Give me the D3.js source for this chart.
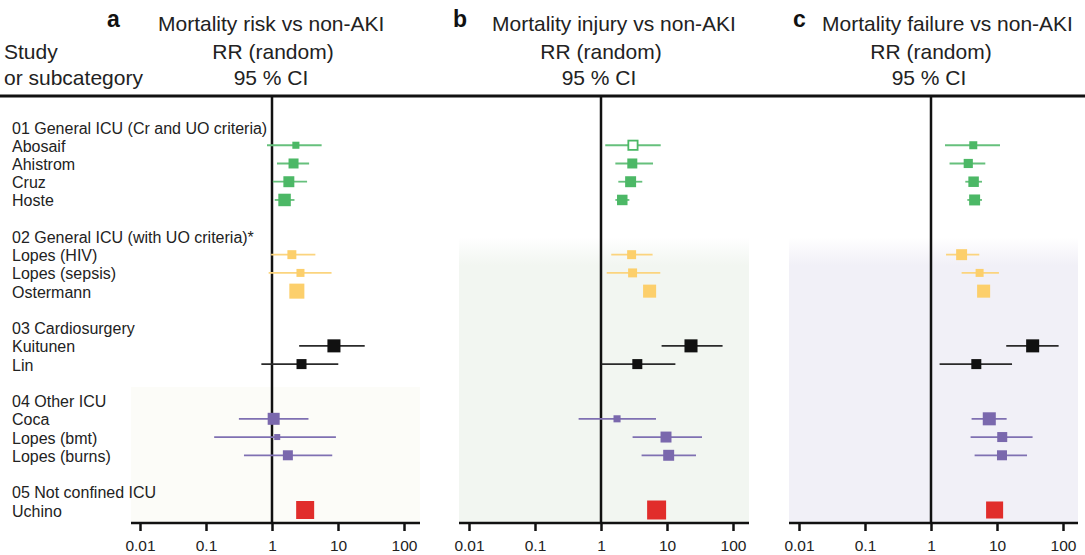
<!DOCTYPE html>
<html>
<head>
<meta charset="utf-8">
<script src="https://cdn.jsdelivr.net/npm/d3@7"></script>
<style>
  body { margin: 0; background: #fff; }
  svg { display: block; font-family: "Liberation Sans", Arial, Helvetica, sans-serif; }
</style>
</head>
<body>
<svg id="chart" width="1085" height="555"></svg>
<script>
// group headings and studies (in plot order)
const groupNames = [
  "01 General ICU (Cr and UO criteria)",
  "02 General ICU (with UO criteria)*",
  "03 Cardiosurgery",
  "04 Other ICU",
  "05 Not confined ICU"
];
const studies = ["Abosaif", "Ahistrom", "Cruz", "Hoste", "Lopes (HIV)", "Lopes (sepsis)", "Ostermann",
  "Kuitunen", "Lin", "Coca", "Lopes (bmt)", "Lopes (burns)", "Uchino"];
const studyGroup = [0, 0, 0, 0, 1, 1, 1, 2, 2, 3, 3, 3, 4];

// a: risk
const riskRR = [2.30, 2.12, 1.80, 1.55, 2.00, 2.70, 2.38, 8.68, 2.80, 1.06, 1.20, 1.74, 3.18];
const riskLo = [0.84, 1.19, 1.03, 1.10, 0.97, 0.89, 2.10, 2.58, 0.69, 0.315, 0.133, 0.376, 2.90];
const riskHi = [5.65, 3.65, 3.40, 2.19, 4.54, 7.98, 2.70, 25.4, 10.1, 3.57, 9.30, 8.18, 3.50];
const riskW  = [2.5, 5.0, 6.0, 7.8, 4.0, 3.2, 11.3, 8.5, 5.0, 7.2, 1.8, 5.0, 16.2];

// b: injury
const injuryRR = [3.05, 2.98, 2.81, 2.10, 2.91, 3.01, 5.45, 23.1, 3.55, 1.75, 9.66, 10.6, 6.96];
const injuryLo = [1.16, 1.65, 1.83, 1.65, 1.43, 1.22, 4.80, 8.28, 1.02, 0.458, 3.01, 4.12, 6.20];
const injuryHi = [8.03, 6.14, 4.22, 2.69, 6.05, 7.91, 6.20, 69.5, 13.4, 6.81, 33.9, 27.5, 7.80];
const injuryW  = [4.3, 5.0, 6.0, 5.5, 4.0, 4.0, 8.5, 8.5, 5.0, 2.5, 6.0, 6.0, 18.0];
const injuryHollow = ["Abosaif"];

// c: failure
const failureRR = [4.37, 3.67, 4.42, 4.58, 2.91, 5.45, 6.27, 34.7, 4.86, 7.64, 12.0, 11.9, 9.20];
const failureLo = [1.63, 1.91, 3.31, 3.55, 1.69, 2.91, 5.50, 13.8, 1.35, 4.12, 3.98, 4.58, 8.20];
const failureHi = [11.1, 6.65, 5.93, 5.93, 5.39, 10.7, 7.10, 85.8, 16.9, 14.0, 34.6, 28.5, 10.3];
const failureW  = [3.2, 4.2, 5.5, 6.0, 6.0, 3.2, 8.5, 8.5, 5.0, 8.5, 5.0, 5.0, 14.5];

const tickValues = [0.01, 0.1, 1, 10, 100];
const groupColors = ["#4cb866", "#fccf6b", "#111111", "#7a68ad", "#e12d2b"];
const lineColors  = ["#66c07c", "#fbd47e", "#2a2a2a", "#7f70b2", "#e12d2b"];

const svg = d3.select("#chart");
const axisY = 523, topY = 96;

// row slots: heading, studies, then one empty slot
const rows = [];
let slot = 0;
groupNames.forEach((g, gi) => {
  rows.push({ type: "head", text: g, slot: slot++ });
  studies.forEach((s, i) => {
    if (studyGroup[i] == gi) rows.push({ type: "study", text: s, idx: i, slot: slot++ });
  });
  slot++;
});
const y = d3.scaleLinear().domain([0, 21]).range([128, 511]);
const studySlot = {};
rows.filter(r => r.type == "study").forEach(r => studySlot[r.idx] = r.slot);

const boxSize = d3.scaleSqrt().domain([0, 20]).range([0, 20]);

const panels = [
  { letter: "a", title: "Mortality risk vs non-AKI", rr: riskRR, lo: riskLo, hi: riskHi, w: riskW, hollow: [],
    range: [140, 404], axis: [131, 420], letterX: 107, titleX: 158, rrX: 273, bg: "#fcfcf8", bgTop: 387, fade: 0 },
  { letter: "b", title: "Mortality injury vs non-AKI", rr: injuryRR, lo: injuryLo, hi: injuryHi, w: injuryW, hollow: injuryHollow,
    range: [469, 733], axis: [459, 749], letterX: 453, titleX: 492, rrX: 601, bg: "#f2f6f1", bgTop: 237, fade: 28 },
  { letter: "c", title: "Mortality failure vs non-AKI", rr: failureRR, lo: failureLo, hi: failureHi, w: failureW, hollow: [],
    range: [799, 1063], axis: [789, 1078], letterX: 793, titleX: 822, rrX: 931, bg: "#f1f0f7", bgTop: 237, fade: 28 }
];

const defs = svg.append("defs");

// header
svg.append("text").attr("x", 4).attr("y", 59).attr("font-size", 21).attr("fill", "#222").text("Study");
svg.append("text").attr("x", 4).attr("y", 85).attr("font-size", 21).attr("fill", "#222").text("or subcategory");

panels.forEach((p, pi) => {
  const x = d3.scaleLog().domain([0.01, 100]).range(p.range);

  // background
  const gid = "bg" + pi;
  const grad = defs.append("linearGradient").attr("id", gid)
    .attr("gradientUnits", "userSpaceOnUse")
    .attr("x1", 0).attr("x2", 0).attr("y1", p.bgTop).attr("y2", p.bgTop + p.fade + 0.01);
  grad.append("stop").attr("offset", 0).attr("stop-color", p.fade ? "#ffffff" : p.bg);
  grad.append("stop").attr("offset", 1).attr("stop-color", p.bg);
  svg.append("rect")
    .attr("x", p.axis[0]).attr("y", p.bgTop)
    .attr("width", p.axis[1] - p.axis[0]).attr("height", axisY - p.bgTop)
    .attr("fill", `url(#${gid})`);

  // titles
  svg.append("text").attr("x", p.letterX).attr("y", 27)
    .attr("font-size", 23).attr("font-weight", "bold").attr("fill", "#111").text(p.letter);
  svg.append("text").attr("x", p.titleX).attr("y", 31)
    .attr("font-size", 21).attr("fill", "#222").text(p.title);
  svg.append("text").attr("x", p.rrX).attr("y", 59).attr("text-anchor", "middle")
    .attr("font-size", 21).attr("fill", "#222").text("RR (random)");
  svg.append("text").attr("x", p.rrX - 2).attr("y", 85).attr("text-anchor", "middle")
    .attr("font-size", 21).attr("fill", "#222").text("95 % CI");

  // no-effect line
  svg.append("line")
    .attr("x1", x(1)).attr("x2", x(1)).attr("y1", topY).attr("y2", axisY)
    .attr("stroke", "#111").attr("stroke-width", 2.5);

  // axis
  const axisG = svg.append("g").attr("transform", `translate(0,${axisY})`)
    .call(d3.axisBottom(x).tickValues(tickValues).tickFormat(d => String(d))
      .tickSize(8).tickSizeOuter(0).tickPadding(9));
  axisG.select(".domain").remove();
  axisG.selectAll(".tick line").attr("stroke", "#111").attr("stroke-width", 2.5);
  axisG.selectAll(".tick text").attr("font-size", 15.5).attr("fill", "#222")
    .attr("font-family", "\"Liberation Sans\", Arial, sans-serif");
  svg.append("line")
    .attr("x1", p.axis[0]).attr("x2", p.axis[1]).attr("y1", axisY).attr("y2", axisY)
    .attr("stroke", "#111").attr("stroke-width", 2.5);

  // marks
  const g = svg.append("g");
  const idx = d3.range(studies.length);
  g.selectAll(".ci").data(idx).enter().append("line")
    .attr("class", "ci")
    .attr("x1", i => x(p.lo[i])).attr("x2", i => x(p.hi[i]))
    .attr("y1", i => y(studySlot[i]) - 1).attr("y2", i => y(studySlot[i]) - 1)
    .attr("stroke", i => lineColors[studyGroup[i]]).attr("stroke-width", 1.8);
  g.selectAll(".box").data(idx).enter().append("rect")
    .attr("class", "box")
    .attr("x", i => x(p.rr[i]) - boxSize(p.w[i]) / 2)
    .attr("y", i => y(studySlot[i]) - 1 - boxSize(p.w[i]) / 2)
    .attr("width", i => boxSize(p.w[i]))
    .attr("height", i => boxSize(p.w[i]))
    .attr("fill", i => p.hollow.includes(studies[i]) ? "#fff" : groupColors[studyGroup[i]])
    .attr("stroke", i => p.hollow.includes(studies[i]) ? groupColors[studyGroup[i]] : "none")
    .attr("stroke-width", 1.8);
});

// header rule
svg.append("line").attr("x1", 0).attr("x2", 1085).attr("y1", 96).attr("y2", 96)
  .attr("stroke", "#111").attr("stroke-width", 3);

// row labels
svg.selectAll(".rowlabel").data(rows).enter().append("text")
  .attr("class", "rowlabel")
  .attr("x", 12)
  .attr("y", r => y(r.slot) + 5.5)
  .attr("font-size", 16)
  .attr("fill", "#222")
  .text(r => r.text);
</script>
</body>
</html>
